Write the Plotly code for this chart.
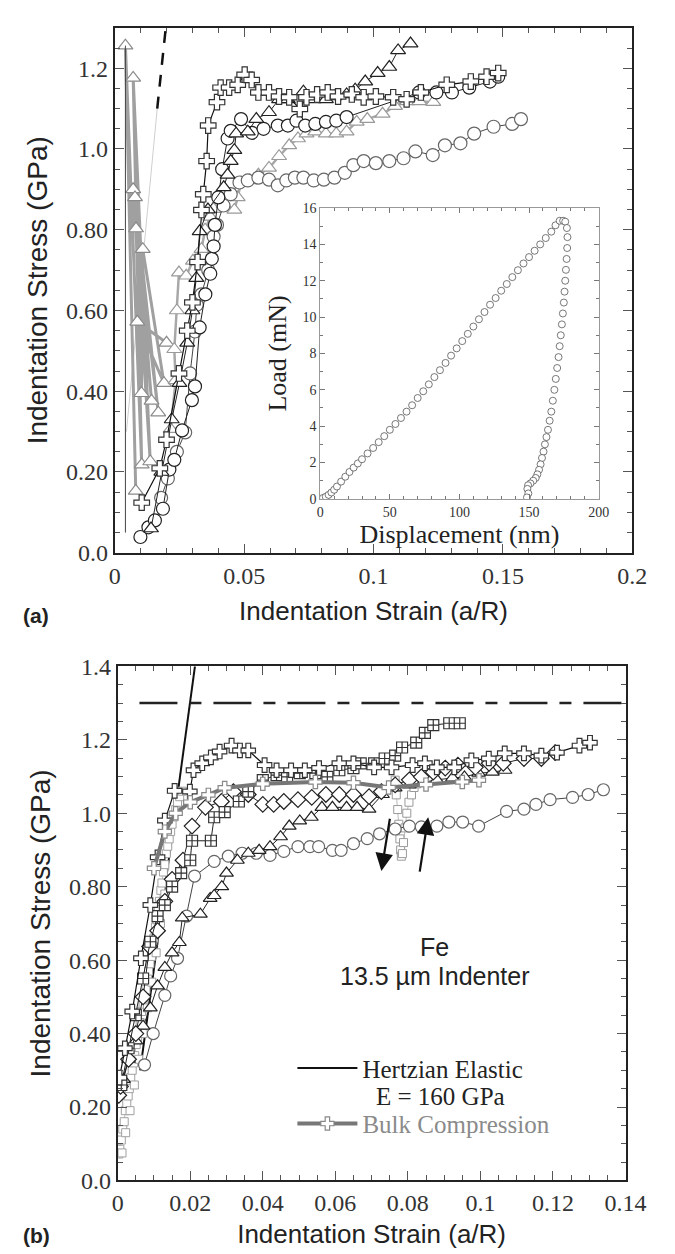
import plotly.graph_objects as go

# ---------------- Panel (a) data ----------------
a_cross_x = [0.0104,0.0174,0.0200,0.0248,0.0280,0.0300,0.0320,0.0335,0.0342,0.0355,0.0361,0.0395,0.0409,0.0442,0.0475,0.0502,0.0529,0.0555,0.0596,0.0635,0.0674,0.0715,0.0741,0.0782,0.0823,0.0863,0.0916,0.0962,0.1009,0.1076,0.1128,0.1183,0.1283,0.1376,0.1437,0.1482]
a_cross_y = [0.124,0.209,0.280,0.444,0.550,0.620,0.720,0.849,0.888,0.970,1.058,1.116,1.152,1.152,1.159,1.184,1.171,1.140,1.140,1.130,1.128,1.099,1.128,1.135,1.140,1.130,1.135,1.128,1.130,1.128,1.123,1.140,1.159,1.167,1.179,1.188]

a_tri_x = [0.0140,0.0180,0.0220,0.0250,0.0280,0.0300,0.0315,0.0328,0.0360,0.0421,0.0436,0.0448,0.0462,0.0469,0.0514,0.0547,0.0596,0.0635,0.0669,0.0729,0.0769,0.0816,0.0849,0.0896,0.0929,0.0968,0.1016,0.1061,0.1095,0.1143]
a_tri_y = [0.060,0.200,0.330,0.420,0.520,0.600,0.680,0.796,0.850,0.905,0.936,0.970,0.997,1.038,1.043,1.074,1.091,1.123,1.123,1.142,1.123,1.123,1.130,1.135,1.147,1.167,1.188,1.203,1.244,1.261]

a_circ_x = [0.0099,0.0130,0.0155,0.0186,0.0211,0.0230,0.0260,0.0298,0.0310,0.0328,0.0350,0.0369,0.0375,0.0382,0.0387,0.0400,0.0415,0.0436,0.0448,0.0488,0.0530,0.0575,0.0630,0.0669,0.0702,0.0736,0.0775,0.0816,0.0856,0.0896,0.1176,0.1243,0.1303,0.1370,0.1450,0.1482]
a_circ_y = [0.039,0.063,0.080,0.109,0.206,0.230,0.303,0.378,0.412,0.558,0.640,0.691,0.728,0.759,0.812,0.880,0.950,1.026,1.045,1.074,1.040,1.050,1.058,1.058,1.070,1.058,1.062,1.067,1.070,1.079,1.140,1.140,1.140,1.152,1.167,1.179]

a_gcirc_x = [0.0179,0.0205,0.0240,0.0272,0.0291,0.0310,0.0317,0.0335,0.0361,0.0382,0.0395,0.0420,0.0448,0.0482,0.0514,0.0555,0.0596,0.0630,0.0663,0.0696,0.0729,0.0769,0.0808,0.0849,0.0889,0.0922,0.0962,0.1009,0.1061,0.1116,0.1162,0.1229,0.1276,0.1336,0.1389,0.1464,0.1536,0.1570]
a_gcirc_y = [0.136,0.184,0.250,0.298,0.444,0.548,0.614,0.640,0.700,0.783,0.812,0.860,0.888,0.917,0.922,0.929,0.924,0.910,0.922,0.929,0.929,0.922,0.924,0.929,0.941,0.960,0.970,0.965,0.970,0.977,0.994,0.985,1.009,1.014,1.038,1.055,1.062,1.074]

a_gtri_x = [0.0216,0.0235,0.0230,0.0240,0.0248,0.0276,0.0302,0.0335,0.0349,0.0369,0.0382,0.0421,0.0462,0.0475,0.0488,0.0521,0.0555,0.0596,0.0635,0.0674,0.0708,0.0741,0.0775,0.0816,0.0856,0.0896,0.0935,0.0976,0.1035,0.1083,0.1130,0.1177,0.1231]
a_gtri_y = [0.306,0.427,0.504,0.600,0.694,0.686,0.723,0.752,0.800,0.832,0.851,0.863,0.849,0.880,0.917,0.922,0.936,0.953,0.982,1.009,1.026,1.038,1.043,1.038,1.038,1.043,1.067,1.074,1.087,1.106,1.118,1.118,1.116]

a_spike_x = [0.0081,0.0041,0.0104,0.0071,0.0137,0.0071,0.0142,0.0078,0.0168,0.0082,0.0103,0.0108,0.0190,0.0087,0.0200]
a_spike_y = [0.153,1.256,0.218,1.176,0.226,0.900,0.376,0.880,0.347,0.803,0.395,0.752,0.420,0.572,0.520]
a_vline_x = [0.0041,0.0041]
a_vline_y = [0.050,1.256]

hertz_a_x = [0.0045,0.0164,0.0197]
hertz_a_y = [0.30,1.10,1.30]

# ---------------- Inset data ----------------
load_disp = [0,2,4,6,8,10,12,15,18,21,24,27,30,34,38,42,46,50,54,58,62,66,70,74,78,82,86,90,94,98,102,106,110,114,118,122,126,130,134,138,142,146,150,154,158,162,166,169,172]
load_force = [0,0.05,0.12,0.22,0.35,0.50,0.68,0.95,1.22,1.48,1.72,1.95,2.18,2.50,2.80,3.12,3.45,3.80,4.12,4.45,4.80,5.15,5.55,5.92,6.30,6.70,7.08,7.48,7.88,8.28,8.68,9.08,9.48,9.88,10.28,10.68,11.05,11.45,11.82,12.20,12.58,12.95,13.30,13.65,14.00,14.35,14.70,15.05,15.30]
unload_disp = [174.5,176.0,177.2,177.6,177.4,177.0,176.5,176.0,175.5,175.0,174.3,173.6,172.8,172.0,171.2,170.2,169.2,168.2,167.1,166.0,164.8,163.6,162.5,161.4,160.4,159.3,158.3,157.2,156.0,154.8,153.0,151.0,149.3,148.8,149.5,148.5]
unload_force = [15.30,15.25,14.90,14.40,13.80,13.20,12.60,12.00,11.40,10.80,10.20,9.60,9.00,8.40,7.80,7.20,6.60,6.00,5.40,4.80,4.30,3.80,3.40,3.00,2.60,2.25,1.90,1.60,1.35,1.15,1.00,0.85,0.75,0.55,0.30,0.08]

# ---------------- Panel (b) data ----------------
b_cross_x = [0.0005,0.0020,0.0040,0.0064,0.0090,0.0110,0.0130,0.0157,0.0199,0.0209,0.0233,0.0257,0.0281,0.0314,0.0337,0.0360,0.0405,0.0438,0.0478,0.0516,0.0555,0.0611,0.0650,0.0707,0.0755,0.0813,0.0847,0.0880,0.0928,0.0975,0.1023,0.1067,0.1120,0.1168,0.1211,0.1273,0.1302]
b_cross_y = [0.28,0.36,0.46,0.605,0.75,0.88,0.98,1.061,1.059,1.117,1.136,1.152,1.168,1.184,1.171,1.171,1.131,1.117,1.117,1.117,1.123,1.136,1.136,1.125,1.125,1.131,1.136,1.125,1.125,1.144,1.149,1.163,1.163,1.157,1.165,1.184,1.192]

b_box_x = [0.0010,0.0030,0.0050,0.0070,0.0090,0.0110,0.0130,0.0150,0.0175,0.0200,0.0205,0.0257,0.0266,0.0295,0.0334,0.0360,0.0400,0.0438,0.0467,0.0502,0.0545,0.0578,0.0611,0.0650,0.0670,0.0707,0.0736,0.0765,0.0784,0.0823,0.0847,0.0870,0.0914,0.0943]
b_box_y = [0.26,0.36,0.45,0.55,0.65,0.72,0.75,0.80,0.837,0.872,0.925,0.925,0.989,1.003,1.032,1.059,1.090,1.104,1.099,1.109,1.109,1.099,1.117,1.123,1.136,1.136,1.149,1.157,1.179,1.192,1.219,1.240,1.245,1.245]

b_dia_x = [0.0003,0.0008,0.0030,0.0050,0.0070,0.0088,0.0110,0.0130,0.0150,0.0180,0.0205,0.0242,0.0286,0.0319,0.0360,0.0400,0.0430,0.0458,0.0497,0.0535,0.0574,0.0611,0.0650,0.0693,0.0727,0.0765,0.0804,0.0837,0.0870,0.0903,0.0938,0.0986,0.1024,0.1063,0.1120,0.1168,0.1206]
b_dia_y = [0.232,0.256,0.33,0.40,0.50,0.637,0.68,0.76,0.82,0.872,0.965,1.016,1.032,1.059,1.051,1.024,1.024,1.032,1.037,1.043,1.051,1.051,1.051,1.045,1.059,1.077,1.091,1.099,1.112,1.123,1.131,1.125,1.136,1.136,1.149,1.149,1.165]

b_tri_x = [0.0016,0.0030,0.0050,0.0070,0.0090,0.0110,0.0130,0.0150,0.0170,0.0178,0.0228,0.0255,0.0266,0.0287,0.0300,0.0330,0.0360,0.0390,0.0420,0.0449,0.0473,0.0502,0.0534,0.0563,0.0592,0.0631,0.0660,0.0693,0.0730,0.0765,0.0804,0.0842,0.0880,0.0923,0.0956,0.0995,0.1033,0.1068]
b_tri_y = [0.275,0.33,0.38,0.42,0.47,0.53,0.58,0.62,0.648,0.715,0.725,0.768,0.776,0.80,0.837,0.872,0.891,0.899,0.909,0.936,0.965,0.979,0.989,1.016,1.016,1.016,1.016,1.011,1.051,1.069,1.077,1.085,1.091,1.096,1.099,1.109,1.112,1.117]

b_circ_x = [0.0074,0.0098,0.0130,0.0146,0.0165,0.0190,0.0212,0.0266,0.0305,0.0343,0.0382,0.0420,0.0458,0.0497,0.0530,0.0554,0.0592,0.0616,0.0650,0.0688,0.0722,0.0765,0.0804,0.0837,0.0880,0.0913,0.0951,0.0995,0.1072,0.1120,0.1153,0.1192,0.1254,0.1297,0.1339]
b_circ_y = [0.315,0.40,0.504,0.557,0.605,0.72,0.829,0.869,0.883,0.891,0.891,0.885,0.896,0.909,0.909,0.909,0.899,0.899,0.917,0.931,0.944,0.957,0.965,0.963,0.965,0.976,0.976,0.965,1.005,1.011,1.024,1.037,1.043,1.051,1.064]

b_gsq_x = [0.0003,0.0006,0.0010,0.0014,0.0018,0.0021,0.0025,0.0029,0.0032,0.0036,0.0040,0.0044,0.0047,0.0051,0.0055,0.0058,0.0062,0.0066,0.0070,0.0074,0.0078,0.0082,0.0085,0.0089,0.0093,0.0097,0.0100,0.0104,0.0108,0.0112,0.0115,0.0119,0.0122,0.0126,0.0130,0.0134,0.0138,0.0142,0.0146,0.0150,0.0155,0.0160,0.0165,0.0171,0.0178]
b_gsq_y = [0.072,0.085,0.11,0.14,0.16,0.19,0.21,0.23,0.25,0.28,0.30,0.32,0.34,0.37,0.39,0.41,0.43,0.46,0.48,0.50,0.52,0.55,0.57,0.59,0.61,0.64,0.66,0.69,0.71,0.74,0.76,0.79,0.81,0.84,0.86,0.89,0.91,0.93,0.95,0.97,0.99,1.01,1.03,1.045,1.06]
b_gsq2_x = [0.0012,0.0022,0.0034,0.0046,0.0058,0.0070,0.0082,0.0094,0.0106,0.0118,0.0130]
b_gsq2_y = [0.075,0.13,0.19,0.26,0.33,0.40,0.47,0.54,0.62,0.70,0.78]
b_loop_x = [0.0765,0.0768,0.0772,0.0775,0.0778,0.0780,0.0782,0.0785,0.0788,0.0792,0.0797,0.0803,0.0810,0.0817,0.0824]
b_loop_y = [1.09,1.05,1.01,0.97,0.93,0.90,0.883,0.89,0.92,0.96,1.00,1.03,1.05,1.07,1.08]

bulk_x = [0.0100,0.0130,0.0160,0.0200,0.0250,0.0295,0.0400,0.0545,0.0650,0.0747,0.0850,0.0950,0.0996]
bulk_y = [0.85,0.95,1.00,1.03,1.05,1.069,1.080,1.085,1.083,1.070,1.078,1.085,1.090]

hertz_b_x = [0.0062,0.0213]
hertz_b_y = [0.3,1.4]
plateau_x = [0.0060,0.1400]
plateau_y = [1.3,1.3]

arrow_down = [(0.0751, 0.989), (0.0727, 0.843)]
arrow_up = [(0.0832, 0.837), (0.0856, 0.989)]

ya_vals = [0, 0.2, 0.4, 0.6, 0.8, 1.0, 1.2]
ya_text = ["0.0", "0.20", "0.40", "0.60", "0.80", "1.0", "1.2"]
yb_vals = [0, 0.2, 0.4, 0.6, 0.8, 1.0, 1.2, 1.4]
yb_text = ["0.0", "0.20", "0.40", "0.60", "0.80", "1.0", "1.2", "1.4"]

# ---------------- Layout helpers ----------------
W, H = 675, 1254
def xd(p0, p1):
    return [p0 / W, p1 / W]
def yd(p0, p1):  # p0 top pixel, p1 bottom pixel
    return [1 - p1 / H, 1 - p0 / H]

SERIF = "Liberation Serif"
SANS = "Liberation Sans"
TICKC = "#555"

def main_axis(rng, dtick_minor, domain, title=None, tsize=26, **kw):
    d = dict(range=rng, domain=domain, showline=True, linecolor="#222", linewidth=2,
             mirror="ticks", ticks="inside", ticklen=9, tickwidth=1, tickcolor=TICKC,
             minor=dict(ticks="inside", ticklen=5, tickwidth=1, tickcolor=TICKC, dtick=dtick_minor),
             showgrid=False, zeroline=False,
             tickfont=dict(family=SERIF, size=24, color="#333"))
    if title:
        d["title"] = dict(text=title, font=dict(family=SANS, size=tsize, color="#222"))
    d.update(kw)
    return d

fig = go.Figure()

def add(x, y, xa, ya, symbol=None, size=11, mcolor="#111", lcolor="#111", lwidth=1,
        dash="solid", mode="lines+markers", fill="white", name=None, showlegend=False,
        mwidth=1.2, group=None):
    fig.add_trace(go.Scatter(
        x=x, y=y, xaxis=xa, yaxis=ya, mode=mode, name=name, showlegend=showlegend,
        legendgroup=group,
        line=dict(color=lcolor, width=lwidth, dash=dash),
        marker=dict(symbol=symbol, size=size, color=fill, line=dict(color=mcolor, width=mwidth)) if symbol else None,
        hoverinfo="skip"))

# ---- Panel (a) traces ----
add(hertz_a_x[:2], hertz_a_y[:2], "x", "y", mode="lines", lcolor="#cfcfcf", lwidth=1)
add(hertz_a_x[1:], hertz_a_y[1:], "x", "y", mode="lines", lcolor="#111", lwidth=2.5, dash="12px,10px")
add(a_spike_x, a_spike_y, "x", "y", symbol="triangle-up", size=13, mcolor="#8a8a8a", lcolor="#a0a0a0", lwidth=3)
add(a_vline_x, a_vline_y, "x", "y", mode="lines", lcolor="#444", lwidth=1)
add(a_gtri_x, a_gtri_y, "x", "y", symbol="triangle-up", size=13, mcolor="#9a9a9a", lcolor="#a8a8a8", lwidth=2.5)
add(a_gcirc_x, a_gcirc_y, "x", "y", symbol="circle", size=13, mcolor="#666", lcolor="#444", lwidth=1)
add(a_circ_x, a_circ_y, "x", "y", symbol="circle", size=13, mcolor="#222", lcolor="#222", lwidth=1)
add(a_tri_x, a_tri_y, "x", "y", symbol="triangle-up", size=13, mcolor="#222", lcolor="#222", lwidth=1)
add(a_cross_x, a_cross_y, "x", "y", symbol="cross", size=13, mcolor="#333", lcolor="#111", lwidth=1.2)

# ---- Inset traces ----
add(load_disp, load_force, "x2", "y2", symbol="circle", size=7, mcolor="#555", mode="markers", mwidth=0.8)
add(unload_disp, unload_force, "x2", "y2", symbol="circle", size=7, mcolor="#555", mode="markers", mwidth=0.8)

# ---- Panel (b) traces ----
add(hertz_b_x, hertz_b_y, "x3", "y3", mode="lines", lcolor="#111", lwidth=2,
    name="Hertzian Elastic", showlegend=True, group="g1")
add(plateau_x, plateau_y, "x3", "y3", mode="lines", lcolor="#222", lwidth=2.5, dash="38px,12px,12px,12px")
add(b_gsq_x, b_gsq_y, "x3", "y3", symbol="square", size=8, mcolor="#a0a0a0", lcolor="#bbb", lwidth=1, mwidth=1)
add(b_gsq2_x, b_gsq2_y, "x3", "y3", symbol="square", size=8, mcolor="#a0a0a0", mode="markers", mwidth=1)
add(b_loop_x, b_loop_y, "x3", "y3", symbol="square", size=8, mcolor="#9a9a9a", lcolor="#bbb", lwidth=1, mwidth=1)
add(b_circ_x, b_circ_y, "x3", "y3", symbol="circle", size=12, mcolor="#666", lcolor="#444", lwidth=1)
add(b_tri_x, b_tri_y, "x3", "y3", symbol="triangle-up", size=12, mcolor="#222", lcolor="#222", lwidth=1)
add(b_dia_x, b_dia_y, "x3", "y3", symbol="diamond", size=12, mcolor="#222", lcolor="#222", lwidth=1)
add(b_box_x, b_box_y, "x3", "y3", symbol="square-cross", size=11, mcolor="#333", lcolor="#222", lwidth=1)
add(b_cross_x, b_cross_y, "x3", "y3", symbol="cross", size=12, mcolor="#333", lcolor="#111", lwidth=1.2)
add(bulk_x, bulk_y, "x3", "y3", symbol="cross", size=11, mcolor="#888", lcolor="#777", lwidth=4,
    name="<span style='color:#8a8a8a'>Bulk Compression</span>", showlegend=True, group="g2")

# ---- Axes ----
fig.update_layout(
    width=W, height=H, margin=dict(l=0, r=0, t=0, b=0),
    paper_bgcolor="white", plot_bgcolor="white",
    xaxis=main_axis([0, 0.2], 0.01, xd(105, 644), "Indentation Strain (a/R)",
                    dtick=0.05, anchor="y", title_standoff=14),
    yaxis=main_axis([0, 1.3], 0.05, yd(7, 543), "Indentation Stress (GPa)", tsize=28,
                    tickmode="array", tickvals=ya_vals, ticktext=ya_text, anchor="x", title_standoff=10),
    xaxis2=dict(range=[0, 200], domain=xd(319, 609), anchor="y2", showline=True, linecolor="#999",
                linewidth=1, mirror="ticks", ticks="inside", ticklen=5, tickcolor="#777", dtick=50,
                minor=dict(ticks="inside", ticklen=3, dtick=10, tickcolor="#777"),
                showgrid=False, zeroline=False, tickfont=dict(family=SERIF, size=14, color="#333"),
                title=dict(text="Displacement (nm)", font=dict(family=SERIF, size=26, color="#222"), standoff=0)),
    yaxis2=dict(range=[0, 16], domain=yd(191, 488), anchor="x2", showline=True, linecolor="#999",
                linewidth=1, mirror="ticks", ticks="inside", ticklen=5, tickcolor="#777", dtick=2,
                minor=dict(ticks="inside", ticklen=3, dtick=1, tickcolor="#777"),
                showgrid=False, zeroline=False, tickfont=dict(family=SERIF, size=14, color="#333"),
                title=dict(text="Load (mN)", font=dict(family=SERIF, size=26, color="#222"), standoff=8)),
    xaxis3=main_axis([0, 0.14], 0.005, xd(108, 637), "Indentation Strain (a/R)",
                     dtick=0.02, anchor="y3", title_standoff=10),
    yaxis3=main_axis([0, 1.4], 0.05, yd(659, 1184), "Indentation Stress (GPa)", tsize=28,
                     tickmode="array", tickvals=yb_vals, ticktext=yb_text, anchor="x3", title_standoff=10),
    showlegend=True,
    legend=dict(x=290 / W, y=1 - 1046 / H, xanchor="left", yanchor="top", bgcolor="rgba(0,0,0,0)",
                font=dict(family=SERIF, size=25, color="#222"), itemwidth=60, valign="middle",
                tracegroupgap=20),
)

# arrows
for (tail, head) in (arrow_down, arrow_up):
    fig.add_annotation(x=head[0], y=head[1], ax=tail[0], ay=tail[1], xref="x3", yref="y3",
                       axref="x3", ayref="y3", showarrow=True, arrowhead=2, arrowsize=1.6,
                       arrowwidth=2.2, arrowcolor="#111", text="")

fig.add_annotation(x=0.0874, y=0.637, xref="x3", yref="y3", text="Fe", showarrow=False,
                   font=dict(family=SANS, size=25, color="#222"))
fig.add_annotation(x=0.0874, y=0.557, xref="x3", yref="y3", text="13.5 \u00b5m Indenter", showarrow=False,
                   font=dict(family=SANS, size=25, color="#222"))
fig.add_annotation(x=444 / W, y=1 - 1098 / H, xref="paper", yref="paper", text="E = 160 GPa",
                   showarrow=False, xanchor="center", yanchor="middle",
                   font=dict(family=SERIF, size=25, color="#222"))

fig.add_annotation(x=23 / W, y=1 - 607 / H, xref="paper", yref="paper", text="<b>(a)</b>", showarrow=False,
                   xanchor="center", yanchor="middle", font=dict(family=SANS, size=21, color="#222"))
fig.add_annotation(x=23 / W, y=1 - 1240 / H, xref="paper", yref="paper", text="<b>(b)</b>", showarrow=False,
                   xanchor="center", yanchor="middle", font=dict(family=SANS, size=21, color="#222"))

fig.write_html("out.html")
